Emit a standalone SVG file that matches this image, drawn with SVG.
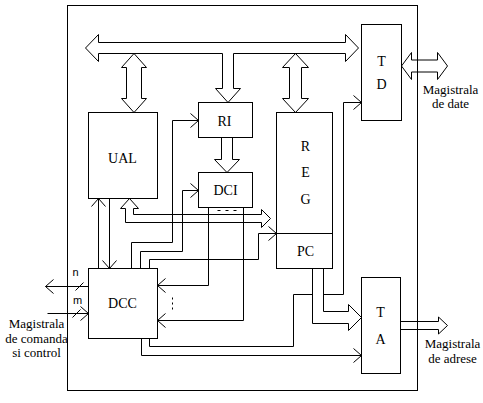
<svg xmlns="http://www.w3.org/2000/svg" width="483" height="403" viewBox="0 0 483 403">
<style>
.c{fill:none;stroke:#000;stroke-width:1}
.h{fill:none;stroke:#000;stroke-width:1;stroke-linejoin:miter}
text{fill:#000;text-anchor:middle}
</style>
<defs>
<marker id="ch" viewBox="-10 -10 20 20" markerWidth="20" markerHeight="20" refX="0" refY="0" orient="auto" markerUnits="userSpaceOnUse">
<path d="M-8,-7 L0,0 L-8,7" fill="none" stroke="#000" stroke-width="1"/>
</marker>
</defs>
<rect width="483" height="403" fill="#fff"/>
<g transform="translate(0.5,0.5)">
<rect id="frame" x="67" y="5" width="350" height="385" class="c"/>

<g id="connectors">
<path class="c" d="M98,268 L98,198" marker-end="url(#ch)"/>
<path class="c" d="M109,198 L109,268" marker-end="url(#ch)"/>
<path class="c" d="M131,268 L131,242 L172,242 L172,120 L198,120" marker-end="url(#ch)"/>
<path class="c" d="M140,268 L140,251 L182,251 L182,190 L198,190" marker-end="url(#ch)"/>
<path class="c" d="M149,268 L149,259 L258,259 L258,233 L276,233" marker-end="url(#ch)"/>
<path class="c" d="M208,214 L208,285 L157,285" marker-end="url(#ch)"/>
<path class="c" d="M243,214 L243,320 L157,320" marker-end="url(#ch)"/>
<path class="c" d="M149,338 L149,346 L293,346 L293,294 L312,294"/>
<path class="c" d="M141,338 L141,355 L361,355" marker-end="url(#ch)"/>
<path class="c" d="M323,294 L343,294 L343,102 L361,102" marker-end="url(#ch)"/>
<path class="c" d="M88,286 L45,286" marker-end="url(#ch)"/>
<path class="c" d="M75,290 L83,282"/>
<path class="c" d="M47,313 L88,313" marker-end="url(#ch)"/>
<path class="c" d="M72,317 L80,309"/>
<line class="c" x1="172" y1="297" x2="172" y2="311" stroke-dasharray="2,3"/>
<path class="h" d="M85,47.5 L98,34 L98,42 L345,42 L345,34 L358,47.5 L345,61 L345,53 L233,53 L233,88 L240,88 L227.5,102 L215,88 L222,88 L222,53 L98,53 L98,61 Z"/>
<path class="h" d="M133.5,53 L146,67 L141,67 L141,98 L146,98 L133.5,112 L121,98 L126,98 L126,67 L121,67 Z"/>
<path class="h" d="M295,53 L308,67 L301,67 L301,98 L308,98 L295,112 L282,98 L289,98 L289,67 L282,67 Z"/>
<path class="h" d="M221,137 L221,159 L214,159 L226.5,172 L239,159 L232,159 L232,137"/>
<path class="h" d="M129,198 L138,208 L133,208 L133,214 L261,214 L261,209 L270,218 L261,227 L261,222 L125,222 L125,208 L120,208 Z"/>
<path class="h" d="M323,268 L323,311 L348,311 L348,304 L361,317 L348,330 L348,323 L312,323 L312,268"/>
<path class="h" d="M401,65.5 L411,52 L411,59.5 L437,59.5 L437,52 L447,65.5 L437,79 L437,71.5 L411,71.5 L411,79 Z"/>
<path class="h" d="M400,321 L438,321 L438,316.5 L447,325 L438,333.5 L438,329 L400,329"/>
</g>

<g font-family="Liberation Serif, DejaVu Serif, serif" font-size="14">
<g id="UAL">
<rect x="88" y="112" width="69" height="86" class="c"/>
<text x="122" y="162">UAL</text>
</g>
<g id="RI">
<rect x="198" y="102" width="54" height="35" class="c"/>
<text x="224" y="125">RI</text>
</g>
<g id="DCI">
<rect x="198" y="172" width="54" height="35" class="c"/>
<text x="225" y="194">DCI</text>
<rect x="208" y="207" width="35" height="7" class="c"/>
<line class="c" x1="217" y1="210" x2="236" y2="210" stroke-dasharray="3,5"/>
</g>
<g id="REG">
<rect x="276" y="112" width="56" height="156" class="c"/>
<line class="c" x1="276" y1="233" x2="332" y2="233"/>
<text x="305" y="150">R</text>
<text x="305" y="176">E</text>
<text x="305" y="203">G</text>
<text x="305" y="255">PC</text>
</g>
<g id="TD">
<rect x="361" y="24" width="40" height="96" class="c"/>
<text x="381" y="65">T</text>
<text x="381" y="88">D</text>
</g>
<g id="TA">
<rect x="361" y="277" width="39" height="96" class="c"/>
<text x="380" y="316">T</text>
<text x="380" y="343">A</text>
</g>
<g id="DCC">
<rect x="88" y="268" width="69" height="70" class="c"/>
<text x="122" y="307">DCC</text>
</g>
<g id="labels" font-size="13">
<text x="75" y="275" font-family="Liberation Sans, Arial, sans-serif" font-size="11">n</text>
<text x="77" y="303" font-family="Liberation Sans, Arial, sans-serif" font-size="11">m</text>
<text x="36" y="327">Magistrala</text>
<text x="36" y="342">de comanda</text>
<text x="36" y="356">si control</text>
<text x="450" y="93">Magistrala</text>
<text x="450" y="107">de date</text>
<text x="452" y="347">Magistrala</text>
<text x="452" y="362">de adrese</text>
</g>
</g>
</g>
</svg>
